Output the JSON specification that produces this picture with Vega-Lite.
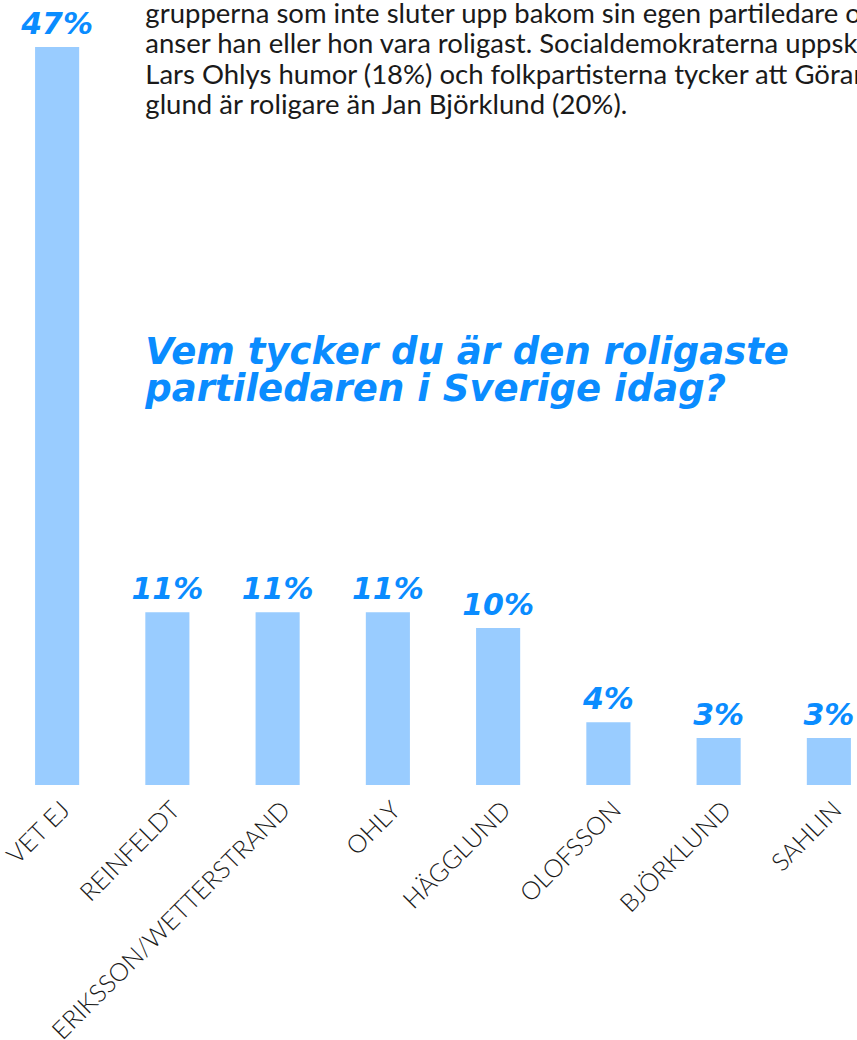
{
  "$schema": "https://vega.github.io/schema/vega-lite/v6.json",
  "width": 855,
  "height": 785,
  "autosize": {"type": "none"},
  "padding": {"left": 2, "top": 0, "right": 0, "bottom": 255},
  "background": "white",
  "config": {"view": {"stroke": null}},
  "data": {
    "values": [
      {"namn": "VET EJ", "andel": 0.47},
      {"namn": "REINFELDT", "andel": 0.11},
      {"namn": "ERIKSSON/WETTERSTRAND", "andel": 0.11},
      {"namn": "OHLY", "andel": 0.11},
      {"namn": "HÄGGLUND", "andel": 0.10},
      {"namn": "OLOFSSON", "andel": 0.04},
      {"namn": "BJÖRKLUND", "andel": 0.03},
      {"namn": "SAHLIN", "andel": 0.03}
    ]
  },
  "layer": [
    {
      "mark": {"type": "bar", "color": "#99CCFF"},
      "encoding": {
        "x": {
          "field": "namn",
          "type": "nominal",
          "sort": null,
          "scale": {"range": [0, 882], "paddingInner": 0.6, "paddingOuter": 0.3},
          "axis": {
            "title": null,
            "labelAngle": -45,
            "labelAlign": "right",
            "labelBaseline": "top",
            "labelFont": "Lato",
            "labelFontWeight": 300,
            "labelFontSize": 25,
            "labelColor": "#1a1a1a",
            "labelPadding": 12,
            "labelLimit": 1000,
            "labelOverlap": false,
            "labelBound": false,
            "ticks": false,
            "domain": false,
            "grid": false
          }
        },
        "y": {
          "field": "andel",
          "type": "quantitative",
          "scale": {"domain": [0, 0.5]},
          "axis": null
        }
      }
    },
    {
      "mark": {
        "type": "text",
        "font": "DejaVu Sans",
        "fontWeight": "bold",
        "fontStyle": "italic",
        "fontSize": 30,
        "color": "#0A8CFF",
        "align": "center",
        "baseline": "alphabetic",
        "dy": -13
      },
      "encoding": {
        "x": {"field": "namn", "type": "nominal", "sort": null},
        "y": {"field": "andel", "type": "quantitative"},
        "text": {"field": "andel", "type": "quantitative", "format": ".0%"}
      }
    },
    {
      "data": {"values": [{"rubrik": "Vem tycker du är den roligaste\npartiledaren i Sverige idag?"}]},
      "mark": {
        "type": "text",
        "font": "DejaVu Sans",
        "fontWeight": "bold",
        "fontStyle": "italic",
        "fontSize": 37,
        "color": "#0A8CFF",
        "align": "left",
        "baseline": "alphabetic",
        "lineBreak": "\n",
        "lineHeight": 37
      },
      "encoding": {
        "x": {"datum": "REINFELDT", "bandPosition": 0},
        "y": {"datum": 0.268},
        "text": {"field": "rubrik"}
      }
    },
    {
      "data": {"values": [{"brodtext": "grupperna som inte sluter upp bakom sin egen partiledare och\nanser han eller hon vara roligast. Socialdemokraterna uppskattar\nLars Ohlys humor (18%) och folkpartisterna tycker att Göran Häg-\nglund är roligare än Jan Björklund (20%)."}]},
      "mark": {
        "type": "text",
        "font": "Lato",
        "fontSize": 27.5,
        "color": "#1a1a1a",
        "align": "left",
        "baseline": "alphabetic",
        "lineBreak": "\n",
        "lineHeight": 30.3
      },
      "encoding": {
        "x": {"datum": "REINFELDT", "bandPosition": 0},
        "y": {"datum": 0.4854},
        "text": {"field": "brodtext"}
      }
    }
  ]
}
